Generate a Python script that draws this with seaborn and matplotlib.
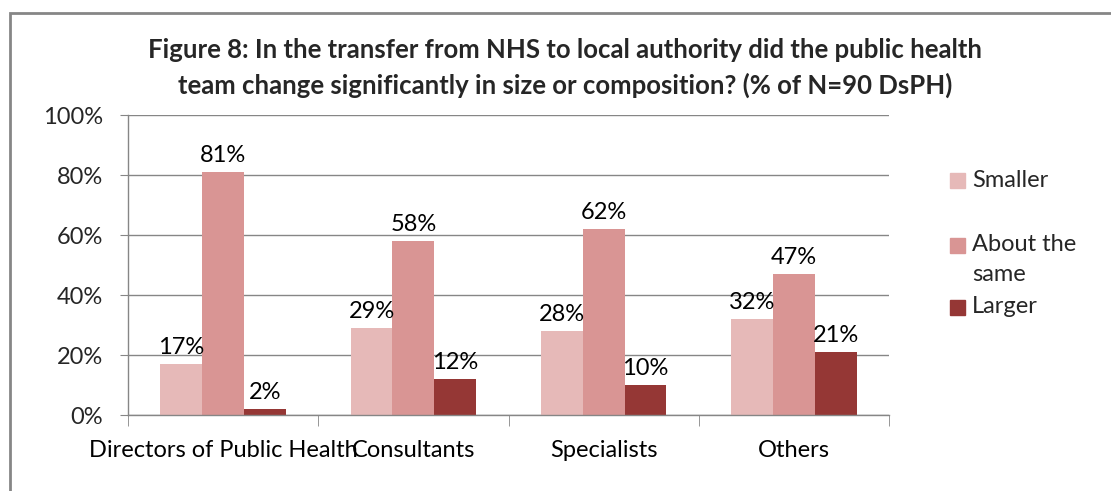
import pandas as pd
import seaborn as sns
from matplotlib import pyplot as plt
from matplotlib.patches import Rectangle
from matplotlib.ticker import FixedLocator, PercentFormatter

categories = ['Directors of Public Health', 'Consultants', 'Specialists', 'Others']
series = ['Smaller', 'About the same', 'Larger']
smaller = [17, 29, 28, 32]
about_same = [81, 58, 62, 47]
larger = [2, 12, 10, 21]

color_list = ['#E6B9B8', '#D99594', '#953735']

df = pd.DataFrame({'category': categories, 'Smaller': smaller,
                   'About the same': about_same, 'Larger': larger})
df = df.melt('category', var_name='series', value_name='pct')

sns.set_style('white')
plt.rcParams['font.family'] = ['Lato', 'DejaVu Sans']
fs = 17

fig = plt.figure(figsize=(11.11, 4.91), dpi=100)
ax = fig.add_axes([128 / 1111, 76 / 491, 761 / 1111, 300 / 491])

sns.barplot(data=df, x='category', y='pct', hue='series', hue_order=series,
            order=categories, palette=color_list, width=0.66, gap=0,
            saturation=1, linewidth=0, legend=False, ax=ax)

for cont in ax.containers:
    ax.bar_label(cont, labels=[f'{v:.0f}%' for v in cont.datavalues],
                 padding=4, fontsize=fs, color='black')

ax.set_ylim(0, 100)
ax.set_xlim(-0.5, 3.5)
ax.yaxis.set_major_locator(FixedLocator(range(0, 101, 20)))
ax.yaxis.set_major_formatter(PercentFormatter(decimals=0))
ax.grid(axis='y', color='#868686', linewidth=1)
ax.set_axisbelow(True)
ax.set_xlabel('')
ax.set_ylabel('')

for side in ['top', 'right']:
    ax.spines[side].set_visible(False)
for side in ['left', 'bottom']:
    ax.spines[side].set_color('#868686')
    ax.spines[side].set_linewidth(1)

ax.xaxis.set_minor_locator(FixedLocator([-0.5, 0.5, 1.5, 2.5, 3.5]))
ax.tick_params(axis='x', which='major', length=0, labelsize=fs, pad=18, colors='black')
ax.tick_params(axis='x', which='minor', length=8, color='#868686', direction='out', bottom=True)
ax.tick_params(axis='y', length=6, color='#868686', direction='out', labelsize=fs, pad=12, left=True)

# legend drawn like Excel's: the square sits next to the first line of each label
legend_rows = [('Smaller', 181, 0), ('About the\nsame', 245, 1), ('Larger', 307, 2)]
for label, y_px, i in legend_rows:
    yf = 1 - y_px / 491
    fig.patches.append(Rectangle((950 / 1111, yf - 7.5 / 491), 15 / 1111, 15 / 491,
                                 transform=fig.transFigure, color=color_list[i]))
    fig.text(972 / 1111, yf + 11 / 491, label, ha='left', va='top',
             fontsize=fs, linespacing=1.55)

fig.text(565 / 1111, 1 - 50 / 491,
         'Figure 8: In the transfer from NHS to local authority did the public health',
         ha='center', va='center', fontsize=18.5, fontweight='bold')
fig.text(565 / 1111, 1 - 85 / 491,
         'team change significantly in size or composition? (% of N=90 DsPH)',
         ha='center', va='center', fontsize=18.5, fontweight='bold')

fig.patches.append(Rectangle((10 / 1111, -0.1), 1.2, 1 - 13 / 491 + 0.1,
                             transform=fig.transFigure, fill=False,
                             edgecolor='#868686', linewidth=2))

plt.savefig('out.png', dpi=100)
